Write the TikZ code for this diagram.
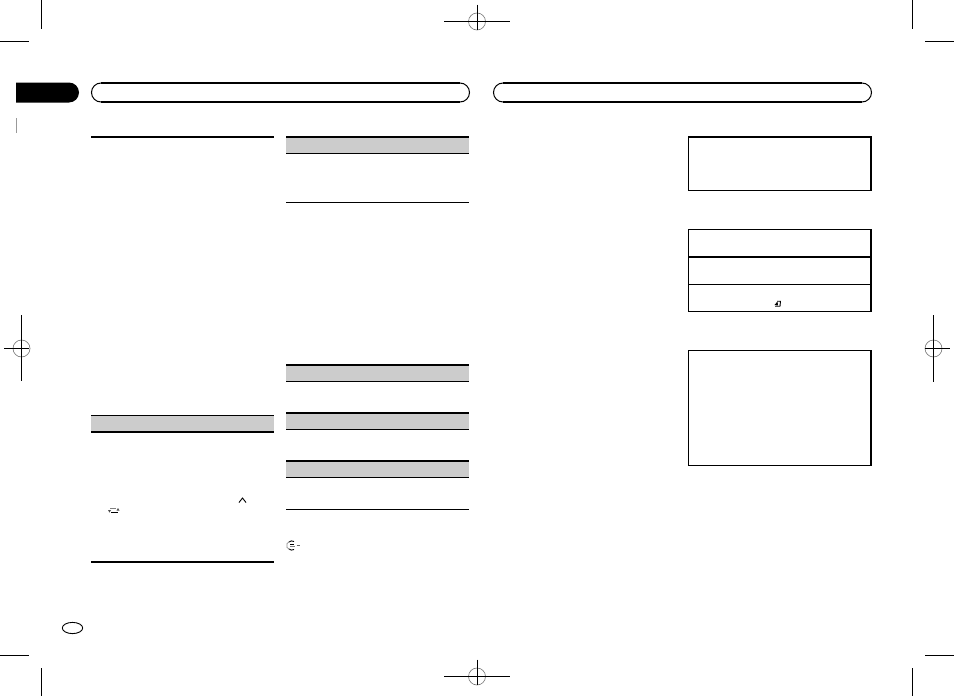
\documentclass[tikz,border=0pt]{standalone}
\usepackage{xcolor}
\usepackage{tikz}
\definecolor{bandgray}{gray}{.8}
\tikzset{
  thickrule/.style={line width=2pt},
  thinrule/.style={line width=1pt},
  cropmark/.style={line width=.9pt},
  regcircle/.style={line width=.6pt, black!55},
  iconline/.style={line width=.9pt}
}
\begin{document}
\begin{tikzpicture}[x=1pt, y=-1pt]
\useasboundingbox (0,0) rectangle (954,696);
\fill[white] (0,0) rectangle (954,696);
% crop marks
\foreach \px/\py in {41.5/0, 912.5/0, 41.5/668, 912.5/668}
  \draw[cropmark] (\px,\py) -- ++(0,28.5);
\foreach \px/\py in {0/41.5, 925/41.5, 0/655.5, 925/655.5}
  \draw[cropmark] (\px,\py) -- ++(29,0);
% registration marks
\foreach \cx/\cy in {477/21.5, 477/676.5}{
  \draw[regcircle] (\cx,\cy) circle[radius=8.5];
  \draw[cropmark] (\cx-33,\cy) -- (\cx+33,\cy);
  \draw[cropmark] (\cx,\cy-17) -- (\cx,\cy+8);
}
\draw[regcircle] (21.5,348.5) circle[radius=8.5];
\draw[cropmark] (4,348.5) -- (29,348.5);
\draw[cropmark] (21.5,315) -- (21.5,381);
\draw[regcircle] (933.5,348.5) circle[radius=8.5];
\draw[cropmark] (925,348.5) -- (950,348.5);
\draw[cropmark] (933.5,315) -- (933.5,381.5);
% header tab and pills
\fill[black] (16,82.5) -- (69,82.5) arc[start angle=-90, end angle=90, radius=10] -- (16,102.5) -- cycle;
\foreach \xa/\xb in {101/460, 503/862}{
  \draw[line width=1pt] (\xa,83) arc[start angle=-90, end angle=-270, radius=9.5];
  \draw[line width=1pt] (\xb,83) arc[start angle=-90, end angle=90, radius=9.5];
  \draw[line width=1.5pt] (\xa,83) -- (\xb,83);
  \draw[line width=1.5pt] (\xa,102) -- (\xb,102);
}
\draw[black!40, line width=.8pt] (16.5,118) -- (16.5,133);
% first column
\draw[thickrule] (91,137) -- (274,137);
\fill[bandgray] (91,415) rectangle (274,432);
\draw[thinrule] (91,415) -- (274,415);
\draw[thickrule] (91,431.7) -- (274,431.7);
\draw[thickrule] (91,561.7) -- (274,561.7);
% second column
\foreach \ytop/\ybot in {137/153.5, 365/381.5, 413/429.5, 461/477.5}{
  \fill[bandgray] (286,\ytop) rectangle (469,\ybot);
  \draw[thickrule] (286,\ytop) -- (469,\ytop);
  \draw[thinrule] (286,\ybot) -- (469,\ybot);
}
\draw[thinrule] (286,202.5) -- (469,202.5);
\draw[thinrule] (286,509.5) -- (469,509.5);
% boxes on the right
\foreach \ytop/\ybot/\wtop in {137/190.5/2, 229.5/311/1, 350.5/465.5/1}{
  \draw[thinrule] (688.5,\ytop) -- (688.5,\ybot) -- (870,\ybot);
  \draw[line width=\wtop pt] (688,\ytop) -- (871.5,\ytop);
  \draw[thickrule] (870.5,\ytop) -- (870.5,\ybot+.5);
}
\draw[thickrule] (688,256.7) -- (871,256.7);
\draw[thinrule] (688,284.5) -- (871,284.5);
% small icons
\draw[iconline] (72.5,628) circle[x radius=10.2, y radius=5.6];
\draw[iconline] (239,502.5) -- (242.5,498) -- (246,502.5);
\draw[black!50, line width=.8pt] (110,508.8) -- (116,508.8);
\draw[iconline] (111,512) -- (118,512);
\fill[black!70] (108,510) -- (111,510) -- (109.5,512.5) -- cycle;
\fill[black!70] (116.5,510.5) -- (119.5,510.5) -- (118,508) -- cycle;
\draw[iconline] (294,541.5) arc[start angle=-60, end angle=-130, radius=4.5];
\draw[iconline] (294,549.5) arc[start angle=60, end angle=130, radius=4.5];
\draw[black!45, line width=.7pt] (289.5,541.7) -- (287,543.5) -- (287,547.5) -- (289.5,549.3);
\draw[line width=.9pt] (290,544.5) -- (294,544.5);
\draw[black!50, line width=.7pt] (290,546.8) -- (295,546.8);
\draw[black!60, line width=.8pt] (296.5,545) -- (300,545);
\fill (774.5,305) -- (777.5,301.5) -- (778,305.5) -- cycle;
\draw[line width=.9pt] (777,301.2) -- (780.5,301.2) -- (780,306.2) -- (775,306.2);
\end{tikzpicture}
\end{document}
